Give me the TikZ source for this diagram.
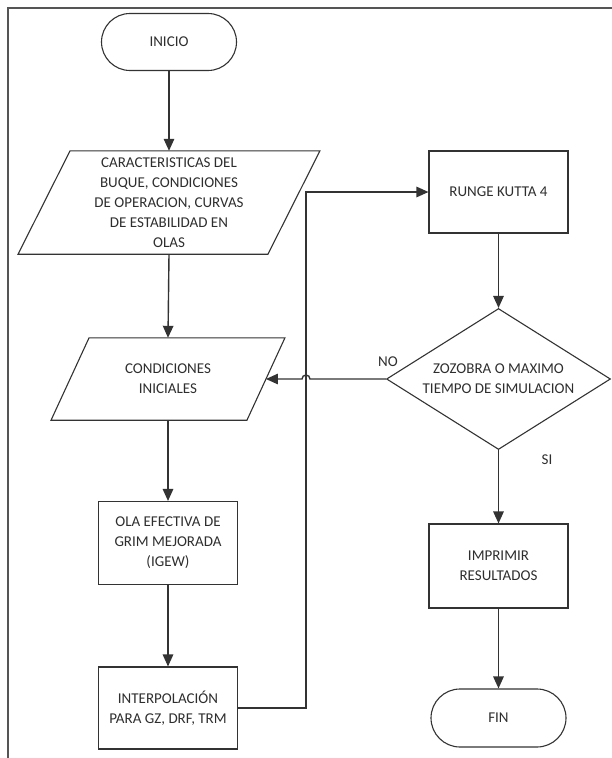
\documentclass[tikz,border=0pt]{standalone}
\usepackage{fontspec}
\setmainfont{Carlito}
\usetikzlibrary{shapes.geometric,shapes.misc,arrows.meta,calc}
\definecolor{linec}{HTML}{333333}
\definecolor{textc}{HTML}{2E2E2E}
\definecolor{framec}{HTML}{555555}
\begin{document}
\begin{tikzpicture}[x=1pt,y=-1pt,
  txt/.style={font=\fontsize{15}{20}\selectfont, text=textc, align=center},
  box/.style={txt, draw=linec, line width=1.1pt, minimum width=139pt, inner sep=2pt},
  term/.style={box, rounded rectangle, minimum width=139pt, minimum height=57pt},
  proc/.style={box, rectangle, minimum height=83pt},
  decis/.style={box, diamond, minimum width=224pt, minimum height=141pt, aspect=1.59, inner sep=0pt},
  iobox/.style={txt, inner sep=0pt},
  outline/.style={draw=linec, line width=1.1pt},
  conn/.style={draw=linec, line width=1.4pt, -{Triangle[length=12pt,width=10.5pt]}},
]
\useasboundingbox (0,0) rectangle (612,758);
% frame
\draw[framec, line width=1.1pt] (8,760) -- (8,8) -- (614,8);

% nodes
\node[term] (inicio) at (169,42) {INICIO};
\node[iobox, minimum width=249.5pt, minimum height=103pt] (p1) at (169,202.5)
  {CARACTERISTICAS DEL\\BUQUE, CONDICIONES\\DE OPERACION, CURVAS\\DE ESTABILIDAD EN\\OLAS};
\draw[outline] ($(p1.north west)+(26,0)$) -- ($(p1.north east)+(26,0)$)
  -- ($(p1.south east)+(-26,0)$) -- ($(p1.south west)+(-26,0)$) -- cycle;
\node[iobox, minimum width=195.5pt, minimum height=82pt] (p2) at (168,379)
  {CONDICIONES\\INICIALES};
\draw[outline] ($(p2.north west)+(19,0)$) -- ($(p2.north east)+(19,0)$)
  -- ($(p2.south east)+(-19,0)$) -- ($(p2.south west)+(-19,0)$) -- cycle;
\node[proc] (ola) at (168,543) {OLA EFECTIVA DE\\GRIM MEJORADA\\(IGEW)};
\node[proc, minimum height=82pt] (interp) at (168,708) {INTERPOLACIÓN\\PARA GZ, DRF, TRM};
\node[proc, minimum height=82pt] (rk) at (498.5,192) {RUNGE KUTTA 4};
\node[decis] (dia) at (498.5,379) {ZOZOBRA O MAXIMO\\TIEMPO DE SIMULACION};
\node[proc, minimum height=84pt] (impr) at (498.5,566) {IMPRIMIR\\RESULTADOS};
\node[term, minimum height=58pt] (fin) at (498.5,718) {FIN};
\node[txt] (no) at (388,362) {NO};
\node[txt] (si) at (547,460) {SI};
\coordinate (bus) at (306,0);

% connectors
\draw[conn] (inicio.south) -- (p1.north);
\draw[conn] (p1.south) -- (p2.north);
\draw[conn] (p2.south) -- (ola.north);
\draw[conn] (ola.south) -- (interp.north);
\draw[conn] (interp.east) -| (bus |- rk.west) -- (rk.west);
\draw[conn] (rk.south) -- (dia.north);
\draw[conn] (dia.west) -- ($(bus |- dia.west)+(4,0)$)
  arc[start angle=0, end angle=180, radius=4pt] -- (p2.east);
\draw[conn] (dia.south) -- (impr.north);
\draw[conn] (impr.south) -- (fin.north);
\end{tikzpicture}
\end{document}
